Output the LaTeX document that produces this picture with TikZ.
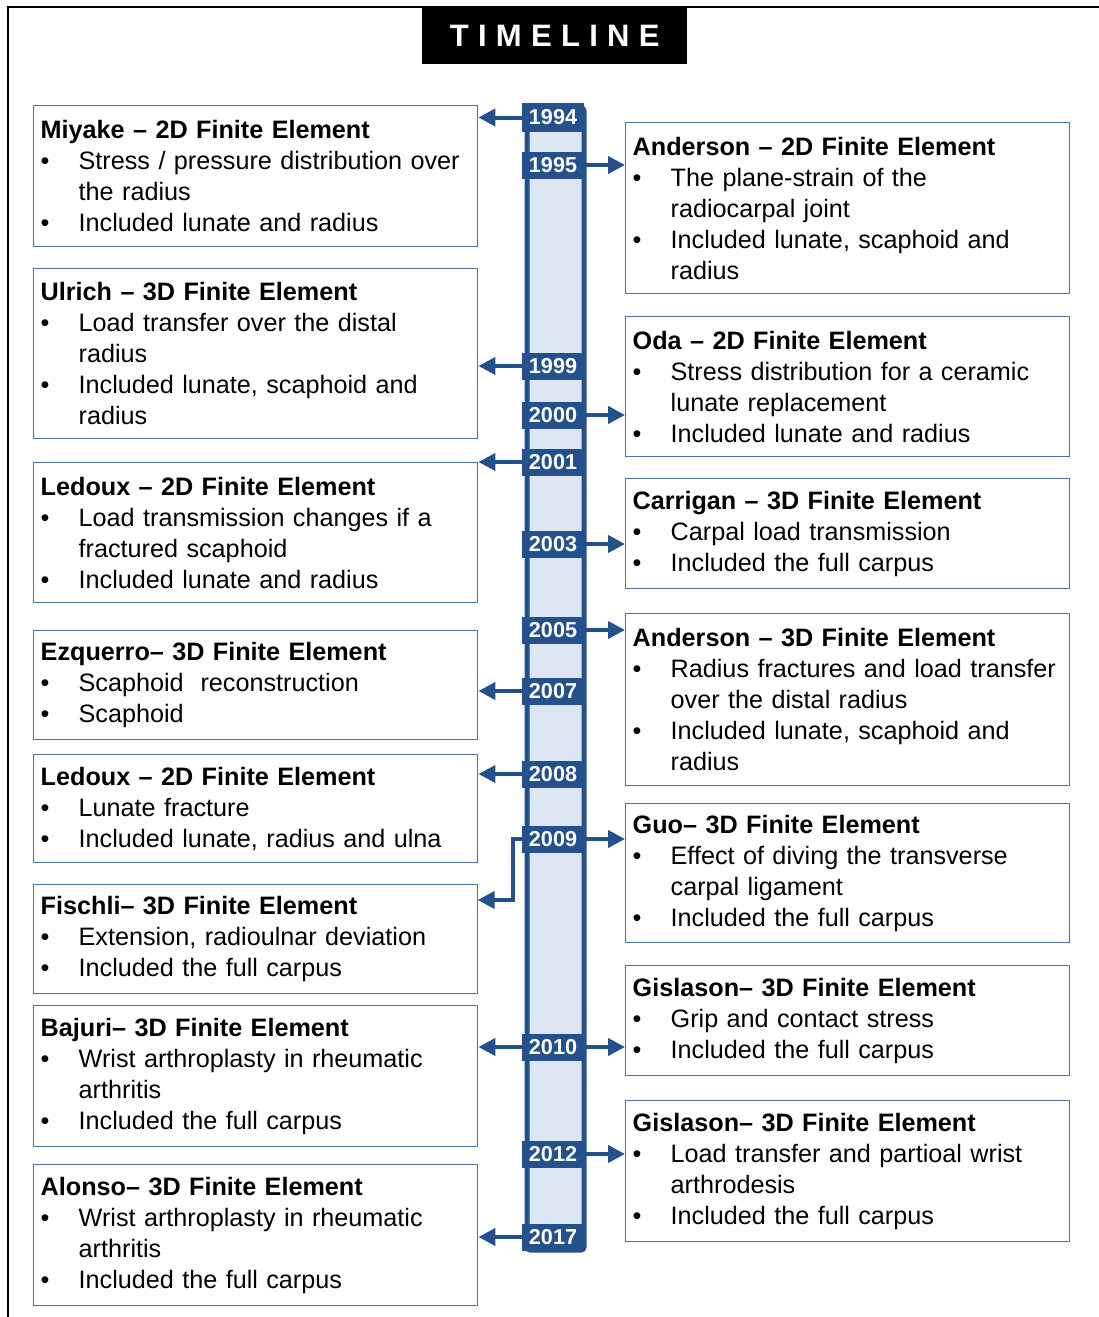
\documentclass[tikz,border=0pt]{standalone}
\usepackage{fontspec}
\setmainfont{Liberation Sans}
\usetikzlibrary{arrows.meta}
\definecolor{tlblue}{HTML}{24508C}
\definecolor{tlfill}{HTML}{DCE6F2}
\definecolor{boxc}{HTML}{4A70A8}
\newcommand{\bl}{\makebox[38pt][l]{\textbullet}}
\newcommand{\ind}{\hspace*{38pt}}
\begin{document}
\begin{tikzpicture}[x=1pt,y=-1pt,
  entry/.style={draw=boxc, line width=1.4pt, anchor=north west, minimum width=444pt,
    text width=430pt, inner xsep=7pt, inner ysep=0pt, align=left,
    font=\fontsize{25.2}{31}\selectfont},
  yearlab/.style={fill=tlblue, text=white, font=\fontsize{21.6}{22}\selectfont\bfseries,
    minimum width=62pt, minimum height=27pt, inner sep=0pt},
  arr/.style={draw=tlblue, line width=4pt, -{Triangle[length=17pt,width=17pt]}}]
\useasboundingbox (0,0) rectangle (1099,1317);
\draw[line width=2pt] (8,1317) -- (8,7) -- (1099,7);
\node[fill=black, text=white, minimum width=265pt, minimum height=56pt, anchor=north west,
  inner sep=0pt, font=\fontsize{31}{31}\selectfont\bfseries\addfontfeatures{LetterSpace=30}]
  (title) at (422,8) {TIMELINE};
% timeline bar
\node[draw=tlblue, fill=tlfill, line width=5pt, rounded corners=3pt, minimum width=57pt,
  minimum height=1142pt, inner sep=0pt, anchor=north west] (bar) at (524.5,105.5) {};
% year labels
\node[yearlab, minimum height=29pt] (y1994) at (553,117.5) {1994};
\node[yearlab] (y1995) at (553,165) {1995};
\node[yearlab] (y1999) at (553,366) {1999};
\node[yearlab] (y2000) at (553,415) {2000};
\node[yearlab] (y2001) at (553,462) {2001};
\node[yearlab] (y2003) at (553,544) {2003};
\node[yearlab] (y2005) at (553,630) {2005};
\node[yearlab] (y2007) at (553,691) {2007};
\node[yearlab] (y2008) at (553,774) {2008};
\node[yearlab] (y2009) at (553,839) {2009};
\node[yearlab] (y2010) at (553,1047) {2010};
\node[yearlab] (y2012) at (553,1154) {2012};
\node[yearlab] (y2017) at (553,1237) {2017};
% left boxes
\node[entry, minimum height=141pt] (miyake) at (33,105) {\textbf{Miyake – 2D Finite Element}\\\bl \mbox{Stress / pressure distribution over}\\\ind the radius\\\bl Included lunate and radius};
\node[entry, minimum height=170pt] (ulrich) at (33,268) {\textbf{Ulrich – 3D Finite Element}\\\bl Load transfer over the distal\\\ind radius\\\bl Included lunate, scaphoid and\\\ind radius};
\node[entry, minimum height=140pt] (ledouxa) at (33,462) {\textbf{Ledoux – 2D Finite Element}\\\bl \mbox{Load transmission changes if a}\\\ind fractured scaphoid\\\bl Included lunate and radius};
\node[entry, minimum height=109pt] (ezquerro) at (33,630) {\textbf{Ezquerro– 3D Finite Element}\\\bl Scaphoid\ \ reconstruction\\\bl Scaphoid};
\node[entry, minimum height=108pt] (ledouxb) at (33,754) {\textbf{Ledoux – 2D Finite Element}\\\bl Lunate fracture\\\bl \mbox{Included lunate, radius and ulna}};
\node[entry, minimum height=109pt] (fischli) at (33,884) {\textbf{Fischli– 3D Finite Element}\\\bl \mbox{Extension, radioulnar deviation}\\\bl Included the full carpus};
\node[entry, minimum height=141pt] (bajuri) at (33,1005) {\textbf{Bajuri– 3D Finite Element}\\\bl \mbox{Wrist arthroplasty in rheumatic}\\\ind arthritis\\\bl Included the full carpus};
\node[entry, minimum height=141pt] (alonso) at (33,1164) {\textbf{Alonso– 3D Finite Element}\\\bl \mbox{Wrist arthroplasty in rheumatic}\\\ind arthritis\\\bl Included the full carpus};
% right boxes
\node[entry, minimum height=171pt] (andersona) at (625,122) {\textbf{Anderson – 2D Finite Element}\\\bl The plane-strain of the\\\ind radiocarpal joint\\\bl Included lunate, scaphoid and\\\ind radius};
\node[entry, minimum height=140pt] (oda) at (625,316) {\textbf{Oda – 2D Finite Element}\\\bl \mbox{Stress distribution for a ceramic}\\\ind lunate replacement\\\bl Included lunate and radius};
\node[entry, minimum height=110pt] (carrigan) at (625,478) {\textbf{Carrigan – 3D Finite Element}\\\bl Carpal load transmission\\\bl Included the full carpus};
\node[entry, minimum height=172pt] (andersonb) at (625,613) {\textbf{Anderson – 3D Finite Element}\\\bl \mbox{Radius fractures and load transfer}\\\ind over the distal radius\\\bl Included lunate, scaphoid and\\\ind radius};
\node[entry, minimum height=139pt] (guo) at (625,803) {\textbf{Guo– 3D Finite Element}\\\bl \mbox{Effect of diving the transverse}\\\ind carpal ligament\\\bl Included the full carpus};
\node[entry, minimum height=110pt] (gislasona) at (625,965) {\textbf{Gislason– 3D Finite Element}\\\bl Grip and contact stress\\\bl Included the full carpus};
\node[entry, minimum height=141pt] (gislasonb) at (625,1100) {\textbf{Gislason– 3D Finite Element}\\\bl \mbox{Load transfer and partioal wrist}\\\ind arthrodesis\\\bl Included the full carpus};
% arrows
\draw[arr] (y1994.west) -- (y1994.west -| miyake.east);
\draw[arr] (y1995.east) -- (y1995.east -| andersona.west);
\draw[arr] (y1999.west) -- (y1999.west -| ulrich.east);
\draw[arr] (y2000.east) -- (y2000.east -| oda.west);
\draw[arr] (y2001.west) -- (y2001.west -| ledouxa.east);
\draw[arr] (y2003.east) -- (y2003.east -| carrigan.west);
\draw[arr] (y2005.east) -- (y2005.east -| andersonb.west);
\draw[arr] (y2007.west) -- (y2007.west -| ezquerro.east);
\draw[arr] (y2008.west) -- (y2008.west -| ledouxb.east);
\draw[arr] (y2009.east) -- (y2009.east -| guo.west);
\coordinate (fischliin) at (477.7,900);
\draw[arr] (y2009.west) -- ++(-9,0) |- (fischliin);
\draw[arr] (y2010.west) -- (y2010.west -| bajuri.east);
\draw[arr] (y2010.east) -- (y2010.east -| gislasona.west);
\draw[arr] (y2012.east) -- (y2012.east -| gislasonb.west);
\draw[arr] (y2017.west) -- (y2017.west -| alonso.east);
\end{tikzpicture}
\end{document}
